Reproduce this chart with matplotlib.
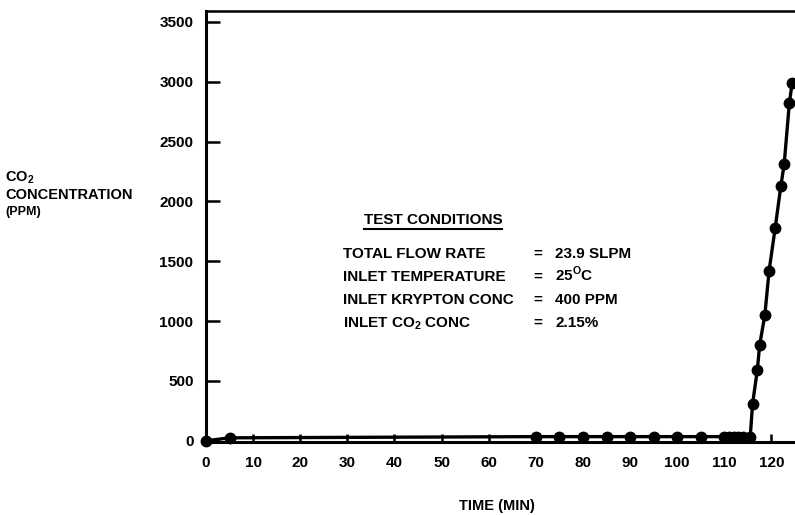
import matplotlib
matplotlib.use('Agg')
import matplotlib.pyplot as plt
from matplotlib.lines import Line2D

plt.rcParams['font.family'] = ['Liberation Sans', 'DejaVu Sans']
plt.rcParams['font.weight'] = 'bold'
plt.rcParams['mathtext.fontset'] = 'custom'
plt.rcParams['mathtext.rm'] = 'Liberation Sans:bold'
plt.rcParams['mathtext.bf'] = 'Liberation Sans:bold'

# breakthrough curve, time in min, CO2 in ppm
time_min = [0, 5, 70, 75, 80, 85, 90, 95, 100, 105,
            110, 111, 112, 113, 114, 115.5,
            116, 117, 117.5, 118.6, 119.5, 120.8, 122.0, 122.7, 123.8, 124.4]
co2_ppm = [0, 25, 35, 35, 35, 35, 35, 35, 35, 35,
           35, 35, 35, 35, 35, 35,
           310, 590, 800, 1050, 1420, 1780, 2130, 2310, 2820, 2990]

x_ticks = list(range(0, 121, 10))
y_ticks = list(range(0, 3501, 500))

cond_names = ['TOTAL FLOW RATE', 'INLET TEMPERATURE', 'INLET KRYPTON CONC', r'INLET CO$_\mathbf{2}$ CONC']
cond_values = ['23.9 SLPM', r'25$^\mathbf{O}$C', '400 PPM', '2.15%']

fig = plt.figure(figsize=(7.95, 5.15), dpi=100)
ax = fig.add_axes([0.2591, 0.1417, 0.7409, 0.8369])

ax.plot(time_min, co2_ppm, color='black', lw=2.4, marker='o', ms=7.5, clip_on=False, zorder=3)

ax.set_xlim(0, 125)
ax.set_ylim(-10, 3590)
ax.set_xticks(x_ticks)
ax.set_yticks(y_ticks)
ax.tick_params(axis='x', direction='in', length=6, width=1.8, pad=10, labelsize=11)
ax.tick_params(axis='y', direction='in', length=10, width=1.8, pad=9, labelsize=11)
for lab in ax.get_xticklabels() + ax.get_yticklabels():
    lab.set_fontweight('bold')

ax.spines['right'].set_visible(False)
ax.spines['left'].set_linewidth(2.2)
ax.spines['bottom'].set_linewidth(2.2)
ax.spines['top'].set_linewidth(1.8)


def px_text(x, y, s, size=10.5, ha='left'):
    # place text by pixel position of its baseline
    return fig.text(x / 795, 1 - y / 515, s, fontsize=size, fontweight='bold', va='baseline', ha=ha)


# axis titles
px_text(5, 181, r'CO$_\mathbf{2}$', size=10.5)
px_text(5, 199, 'CONCENTRATION', size=10.5)
px_text(5, 215, '(PPM)', size=9)
px_text(497, 510, 'TIME (MIN)', size=10.5, ha='center')

# test conditions box
title = px_text(433, 224, 'TEST CONDITIONS', size=11, ha='center')
row_y = [258, 281, 304, 327]
for name, val, y in zip(cond_names, cond_values, row_y):
    px_text(343, y, name, size=11)
    px_text(538, y, '=', size=11, ha='center')
    px_text(555, y, val, size=11)

fig.canvas.draw()
bb = title.get_window_extent().transformed(fig.transFigure.inverted())
fig.add_artist(Line2D([bb.x0, bb.x1], [bb.y0 - 0.004, bb.y0 - 0.004], color='black', lw=1.5))

fig.savefig('out.png', dpi=100)
